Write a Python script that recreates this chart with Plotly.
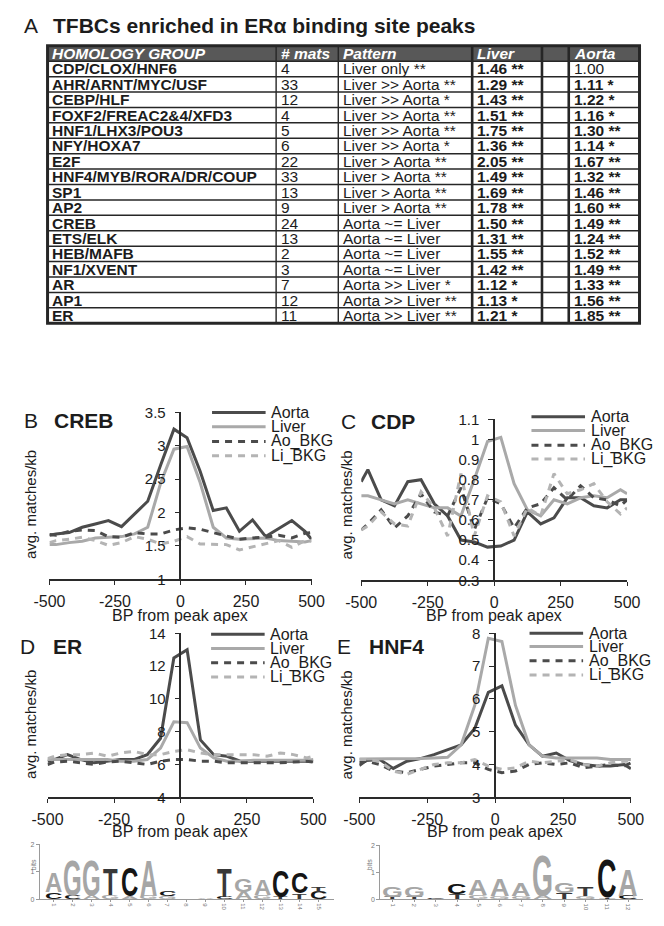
import json
import plotly.graph_objects as go

W, H = 664, 926
FONT = "Liberation Sans, Arial, Helvetica, sans-serif"
INK = "#1c1c1c"
DARK = "#4b4b4b"
LIGHT = "#a9a9a9"
LIGHT_BKG = "#b4b4b4"


def px(x):
    return x / W


def py(y):
    return 1 - y / H


# ---------------- Panel A: table data ----------------
groups = ["CDP/CLOX/HNF6", "AHR/ARNT/MYC/USF", "CEBP/HLF", "FOXF2/FREAC2&4/XFD3",
          "HNF1/LHX3/POU3", "NFY/HOXA7", "E2F", "HNF4/MYB/RORA/DR/COUP", "SP1", "AP2",
          "CREB", "ETS/ELK", "HEB/MAFB", "NF1/XVENT", "AR", "AP1", "ER"]
n_mats = [4, 33, 12, 4, 5, 6, 22, 33, 13, 9, 24, 13, 2, 3, 7, 12, 11]
patterns = ["Liver only **", "Liver >> Aorta **", "Liver >> Aorta *", "Liver >> Aorta **",
            "Liver >> Aorta **", "Liver >> Aorta *", "Liver > Aorta **", "Liver > Aorta **",
            "Liver > Aorta **", "Liver > Aorta **", "Aorta ~= Liver", "Aorta ~= Liver",
            "Aorta ~= Liver", "Aorta ~= Liver", "Aorta >> Liver *", "Aorta >> Liver **",
            "Aorta >> Liver **"]
liver_scores = [1.46, 1.29, 1.43, 1.51, 1.75, 1.36, 2.05, 1.49, 1.69, 1.78, 1.50, 1.31,
                1.55, 1.42, 1.12, 1.13, 1.21]
liver_sig = ["**"] * 14 + ["*", "*", "*"]
aorta_scores = [1.00, 1.11, 1.22, 1.16, 1.30, 1.14, 1.67, 1.32, 1.46, 1.60, 1.49, 1.24,
                1.52, 1.49, 1.33, 1.56, 1.85]
aorta_sig = ["", "*", "*", "*", "**", "*", "**", "**", "**", "**", "**", "**", "**", "**",
             "**", "**", "**"]
header = ["HOMOLOGY GROUP", "# mats", "Pattern", "Liver", "", "Aorta"]

# ---------------- Panels B-E: profile data ----------------
bp = [-500, -475, -425, -375, -325, -275, -225, -175, -125, -75, -25,
      25, 75, 125, 175, 225, 275, 325, 375, 425, 475, 500]
series_names = ["Aorta", "Liver", "Ao_BKG", "Li_BKG"]

creb_aorta = [1.66, 1.68, 1.70, 1.78, 1.83, 1.88, 1.79, 1.98, 2.17, 2.72, 3.25,
              3.12, 2.62, 2.03, 2.07, 1.72, 1.89, 1.64, 1.76, 1.88, 1.72, 1.60]
creb_liver = [1.52, 1.52, 1.55, 1.57, 1.62, 1.63, 1.64, 1.68, 1.78, 2.45, 2.95,
              2.99, 2.45, 1.78, 1.62, 1.60, 1.61, 1.62, 1.58, 1.57, 1.56, 1.58]
creb_ao_bkg = [1.67, 1.66, 1.72, 1.74, 1.73, 1.64, 1.63, 1.70, 1.68, 1.68, 1.74,
               1.77, 1.75, 1.70, 1.66, 1.60, 1.62, 1.63, 1.66, 1.62, 1.69, 1.70]
creb_li_bkg = [1.55, 1.58, 1.60, 1.63, 1.58, 1.51, 1.55, 1.64, 1.60, 1.53, 1.57,
               1.64, 1.53, 1.52, 1.52, 1.44, 1.49, 1.53, 1.58, 1.48, 1.58, 1.57]

cdp_aorta = [0.79, 0.85, 0.70, 0.67, 0.79, 0.80, 0.68, 0.62, 0.50, 0.49, 0.465,
             0.47, 0.50, 0.64, 0.58, 0.61, 0.71, 0.71, 0.67, 0.66, 0.70, 0.70]
cdp_liver = [0.72, 0.72, 0.70, 0.68, 0.70, 0.68, 0.66, 0.66, 0.62, 0.80, 0.99,
             1.01, 0.78, 0.65, 0.62, 0.70, 0.68, 0.71, 0.72, 0.71, 0.75, 0.73]
cdp_ao_bkg = [0.55, 0.58, 0.65, 0.56, 0.62, 0.73, 0.64, 0.62, 0.76, 0.55, 0.71,
              0.68, 0.56, 0.66, 0.68, 0.76, 0.70, 0.77, 0.71, 0.70, 0.67, 0.70]
cdp_li_bkg = [0.55, 0.57, 0.64, 0.58, 0.57, 0.74, 0.66, 0.52, 0.83, 0.52, 0.72,
              0.69, 0.52, 0.66, 0.62, 0.83, 0.73, 0.75, 0.78, 0.69, 0.63, 0.66]

er_aorta = [6.2, 6.3, 6.6, 6.3, 6.1, 6.2, 6.3, 6.3, 6.6, 7.6, 12.5,
            13.0, 7.5, 6.6, 6.5, 6.2, 6.2, 6.2, 6.2, 6.2, 6.2, 6.2]
er_liver = [6.3, 6.3, 6.3, 6.3, 6.3, 6.3, 6.2, 6.2, 6.3, 7.0, 8.6,
            8.55, 7.0, 6.4, 6.2, 6.2, 6.25, 6.25, 6.25, 6.25, 6.25, 6.3]
er_ao_bkg = [6.0, 6.15, 6.2, 6.1, 6.0, 6.15, 6.2, 6.1, 6.0, 6.2, 6.3,
             6.3, 6.2, 6.2, 6.1, 6.1, 6.1, 6.1, 6.1, 6.15, 6.2, 6.15]
er_li_bkg = [6.35, 6.5, 6.6, 6.6, 6.7, 6.5, 6.7, 6.8, 6.6, 6.6, 6.8,
             6.9, 6.7, 6.6, 6.6, 6.6, 6.6, 6.5, 6.7, 6.6, 6.4, 6.5]

hnf4_aorta = [3.97, 4.12, 4.15, 3.88, 4.10, 4.18, 4.30, 4.45, 4.60, 5.10, 6.20,
              6.40, 5.20, 4.60, 4.25, 4.35, 4.12, 4.00, 3.95, 3.95, 4.00, 3.87]
hnf4_liver = [4.17, 4.17, 4.18, 4.18, 4.18, 4.18, 4.20, 4.22, 4.60, 5.80, 7.85,
              7.75, 5.80, 4.60, 4.25, 4.20, 4.20, 4.20, 4.20, 4.15, 4.15, 4.15]
hnf4_ao_bkg = [4.05, 4.10, 4.00, 3.80, 3.75, 3.85, 3.95, 4.00, 4.05, 4.05, 3.85,
               3.75, 3.80, 4.00, 4.05, 4.00, 4.05, 3.90, 3.95, 4.00, 3.95, 4.05]
hnf4_li_bkg = [4.15, 4.15, 4.10, 3.80, 3.70, 3.85, 4.00, 4.05, 4.05, 4.15, 3.95,
               3.85, 3.90, 4.10, 4.05, 4.10, 4.15, 4.00, 3.95, 4.05, 4.10, 4.10]

x_ticks = [-500, -250, 0, 250, 500]
creb_yticks = [1, 1.5, 2, 2.5, 3, 3.5]
cdp_yticks = [0.3, 0.4, 0.5, 0.6, 0.7, 0.8, 0.9, 1.0, 1.1]
er_yticks = [4, 6, 8, 10, 12, 14]
hnf4_yticks = [3, 4, 5, 6, 7, 8]

# ---------------- sequence logos (letter, bits) stacked bottom->top ----------------
er_logo = [
    [("C", 0.25), ("A", 0.70)],
    [("C", 0.13), ("G", 1.29)],
    [("A", 0.12), ("G", 1.30)],
    [("G", 0.15), ("T", 0.95)],
    [("A", 0.10), ("C", 1.04)],
    [("G", 0.12), ("A", 1.30)],
    [("G", 0.11), ("C", 0.20)],
    [],
    [("A", 0.06)],
    [("C", 0.09), ("T", 1.05)],
    [("A", 0.26), ("G", 0.46)],
    [("G", 0.14), ("A", 0.58)],
    [("T", 0.07), ("C", 0.96)],
    [("T", 0.21), ("C", 0.76)],
    [("C", 0.27), ("T", 0.20)],
]
hnf4_logo = [
    [("T", 0.09), ("G", 0.40)],
    [("T", 0.09), ("G", 0.36)],
    [("C", 0.02)],
    [("T", 0.19), ("C", 0.36)],
    [("G", 0.14), ("A", 0.56)],
    [("G", 0.10), ("A", 0.60)],
    [("G", 0.10), ("A", 0.50)],
    [("A", 0.12), ("G", 1.48)],
    [("T", 0.24), ("G", 0.38)],
    [("G", 0.10), ("T", 0.35)],
    [("T", 0.06), ("C", 1.39)],
    [("C", 0.12), ("A", 0.98)],
]
LOGO_COLORS = {"A": "#a6a6a6", "G": "#a6a6a6", "C": "#151515", "T": "#383838"}

annotations = []
shapes = []
stretch = []


def esc(s):
    return s.replace("&", "&amp;").replace(">", "&gt;")


# ---------------- Panel A drawing ----------------
annotations.append(dict(x=px(6), y=py(17), xref="paper", yref="paper", text="A",
                        showarrow=False, xanchor="left", yanchor="middle",
                        font=dict(family=FONT, size=21, color=INK)))
annotations.append(dict(x=px(37), y=py(17), xref="paper", yref="paper",
                        text="<b>TFBCs enriched in ERα binding site peaks</b>",
                        showarrow=False, xanchor="left", yanchor="middle",
                        font=dict(family=FONT, size=21, color=INK)))

col_x = [33, 272, 337, 477, 550, 578, 652]
tbl_top = 37.5
row_h = 15.7
n_rows = len(groups) + 1
tbl_bot = tbl_top + n_rows * row_h
TBL_FS = 15.5

shapes.append(dict(type="rect", xref="paper", yref="paper", x0=px(col_x[0]), x1=px(col_x[-1]),
                   y0=py(tbl_top), y1=py(tbl_top + row_h), fillcolor="#585858",
                   line=dict(width=0), layer="below"))
for k in range(1, n_rows):
    yy = tbl_top + k * row_h
    shapes.append(dict(type="line", xref="paper", yref="paper", x0=px(col_x[0]), x1=px(col_x[-1]),
                       y0=py(yy), y1=py(yy), line=dict(color="#262626", width=1.5)))
for j, cx in enumerate(col_x[1:-1]):
    wdt = 1.4 if j < 2 else 2.6
    shapes.append(dict(type="line", xref="paper", yref="paper", x0=px(cx), x1=px(cx),
                       y0=py(tbl_top), y1=py(tbl_bot), line=dict(color="#262626", width=wdt)))
shapes.append(dict(type="rect", xref="paper", yref="paper", x0=px(col_x[0]), x1=px(col_x[-1]),
                   y0=py(tbl_top), y1=py(tbl_bot), line=dict(color="#262626", width=3)))

for c, htxt in enumerate(header):
    if htxt:
        annotations.append(dict(x=px(col_x[c] + 3), y=py(tbl_top + row_h / 2), xref="paper",
                                yref="paper", text="<b><i>" + esc(htxt) + "</i></b>",
                                showarrow=False, xanchor="left", yanchor="middle",
                                font=dict(family=FONT, size=TBL_FS, color="#ffffff")))

for r in range(len(groups)):
    yc = py(tbl_top + (r + 1.5) * row_h)
    liver_txt = f"<b>{liver_scores[r]:.2f} {liver_sig[r]}</b>"
    a_txt = f"{aorta_scores[r]:.2f} {aorta_sig[r]}".strip()
    aorta_txt = f"<b>{a_txt}</b>" if aorta_sig[r] else a_txt
    cells = ["<b>" + esc(groups[r]) + "</b>", str(n_mats[r]), esc(patterns[r]), liver_txt, "", aorta_txt]
    for c, txt in enumerate(cells):
        if not txt:
            continue
        annotations.append(dict(x=px(col_x[c] + 3), y=yc, xref="paper", yref="paper", text=txt,
                                showarrow=False, xanchor="left", yanchor="middle",
                                font=dict(family=FONT, size=TBL_FS, color=INK)))

# ---------------- Panels B-E ----------------
styles = [dict(color=DARK, dash="solid"), dict(color=LIGHT, dash="solid"),
          dict(color=DARK, dash="7px,6px"), dict(color=LIGHT_BKG, dash="7px,6px")]

panels = [
    dict(letter="B", name="CREB", data=[creb_aorta, creb_liver, creb_ao_bkg, creb_li_bkg],
         xpx=(35, 309), ypx=(581, 411), yrange=(1, 3.5), yticks=creb_yticks,
         ytext=["1", "1.5", "2", "2.5", "3", "3.5"], yaxis_px=172,
         lab=(6, 38, 419.5), leg=(205, 261, 265, [411, 425.5, 440.5, 455]),
         ytitle=(15, 505), xtitle_y=618),
    dict(letter="C", name="CDP", data=[cdp_aorta, cdp_liver, cdp_ao_bkg, cdp_li_bkg],
         xpx=(361, 639), ypx=(582, 418), yrange=(0.3, 1.1), yticks=cdp_yticks,
         ytext=["0.3", "0.4", "0.5", "0.6", "0.7", "0.8", "0.9", "1", "1.1"], yaxis_px=500,
         lab=(338, 369, 420), leg=(539, 595, 599, [415.5, 429.5, 444.5, 458.5]),
         ytitle=(346, 505), xtitle_y=618),
    dict(letter="D", name="ER", data=[er_aorta, er_liver, er_ao_bkg, er_li_bkg],
         xpx=(33, 311), ypx=(803, 636), yrange=(4, 14), yticks=er_yticks,
         ytext=[str(v) for v in er_yticks], yaxis_px=172,
         lab=(2, 37, 649), leg=(204, 260, 264, [637, 651.5, 666, 680.5]),
         ytitle=(15, 729), xtitle_y=838),
    dict(letter="E", name="HNF4", data=[hnf4_aorta, hnf4_liver, hnf4_ao_bkg, hnf4_li_bkg],
         xpx=(359, 643), ypx=(803, 636), yrange=(3, 8), yticks=hnf4_yticks,
         ytext=[str(v) for v in hnf4_yticks], yaxis_px=501,
         lab=(334, 367, 649.5), leg=(537, 593, 597, [636, 649.5, 664, 678.5]),
         ytitle=(346, 729), xtitle_y=838),
]

fig = go.Figure()
layout_axes = {}
for i, p in enumerate(panels):
    sfx = "" if i == 0 else str(i + 1)
    xa, ya = "x" + sfx, "y" + sfx
    for s, (vals, st) in enumerate(zip(p["data"], styles)):
        fig.add_trace(go.Scatter(x=bp, y=vals, mode="lines", name=series_names[s],
                                 xaxis=xa, yaxis=ya, showlegend=False, hoverinfo="skip",
                                 line=dict(color=st["color"], width=3, dash=st["dash"])))
    layout_axes["xaxis" + sfx] = dict(
        domain=[px(p["xpx"][0]), px(p["xpx"][1])], range=[-500, 500], anchor=ya,
        showgrid=False, zeroline=False, showline=True, linecolor="#2a2a2a", linewidth=1.6,
        ticks="outside", ticklen=4, tickwidth=1.4, tickcolor="#2a2a2a", tickvals=x_ticks,
        ticktext=[str(v) for v in x_ticks], ticklabelstandoff=3,
        tickfont=dict(family=FONT, size=16, color=INK))
    layout_axes["yaxis" + sfx] = dict(
        domain=[py(p["ypx"][0]), py(p["ypx"][1])], range=list(p["yrange"]), anchor="free",
        position=px(p["yaxis_px"]), showgrid=False, zeroline=False, showline=True,
        linecolor="#2a2a2a", linewidth=1.6, ticks="outside", ticklen=5, tickwidth=1.4,
        tickcolor="#2a2a2a", tickvals=p["yticks"], ticktext=p["ytext"], ticklabelstandoff=6,
        tickfont=dict(family=FONT, size=15, color=INK))
    lx, nx, ly = p["lab"]
    annotations.append(dict(x=px(lx), y=py(ly), xref="paper", yref="paper", text=p["letter"],
                            showarrow=False, xanchor="left", yanchor="middle",
                            font=dict(family=FONT, size=21, color=INK)))
    annotations.append(dict(x=px(nx), y=py(ly), xref="paper", yref="paper",
                            text="<b>" + p["name"] + "</b>", showarrow=False, xanchor="left",
                            yanchor="middle", font=dict(family=FONT, size=21, color=INK)))
    annotations.append(dict(x=px(p["ytitle"][0]), y=py(p["ytitle"][1]), xref="paper",
                            yref="paper", text="avg. matches/kb", textangle=-90,
                            showarrow=False, xanchor="center", yanchor="middle",
                            font=dict(family=FONT, size=15, color=INK)))
    annotations.append(dict(x=px(p["yaxis_px"]), y=py(p["xtitle_y"]), xref="paper", yref="paper",
                            text="BP from peak apex", showarrow=False, xanchor="center",
                            yanchor="middle", font=dict(family=FONT, size=16, color=INK)))
    x0, x1, tx, ys = p["leg"]
    for s, st in enumerate(styles):
        shapes.append(dict(type="line", xref="paper", yref="paper", x0=px(x0), x1=px(x1),
                           y0=py(ys[s]), y1=py(ys[s]),
                           line=dict(color=st["color"], width=3, dash=st["dash"])))
        annotations.append(dict(x=px(tx), y=py(ys[s]), xref="paper", yref="paper",
                                text=series_names[s], showarrow=False, xanchor="left",
                                yanchor="middle", font=dict(family=FONT, size=16, color=INK)))

# ---------------- logos ----------------
logos = [
    dict(stacks=er_logo, xa="x5", ya="y5", dom_x=(25, 332), first=39.5, step=19.8,
         ypx=(906.7, 851), fs=24, bits_x=12),
    dict(stacks=hnf4_logo, xa="x6", ya="y6", dom_x=(381, 656), first=394, step=22.4,
         ypx=(907, 851.7), fs=27, bits_x=369),
]
for L in logos:
    sfx = L["xa"][1:]
    n = len(L["stacks"])
    x_lo = 1 - (L["first"] - L["dom_x"][0]) / L["step"]
    x_hi = x_lo + (L["dom_x"][1] - L["dom_x"][0]) / L["step"]
    ppb = (L["ypx"][0] - L["ypx"][1]) / 2.0
    layout_axes["xaxis" + sfx] = dict(
        domain=[px(L["dom_x"][0]), px(L["dom_x"][1])], range=[x_lo, x_hi], anchor=L["ya"],
        showgrid=False, zeroline=False, showline=True, linecolor="#9a9a9a", linewidth=1,
        ticks="outside", ticklen=2, tickcolor="#9a9a9a", tickvals=list(range(1, n + 1)),
        ticktext=[str(v) for v in range(1, n + 1)], tickangle=90,
        tickfont=dict(family=FONT, size=6, color="#777777"))
    layout_axes["yaxis" + sfx] = dict(
        domain=[py(L["ypx"][0]), py(L["ypx"][1])], range=[0, 2], anchor=L["xa"],
        showgrid=False, zeroline=False, showline=True, linecolor="#9a9a9a", linewidth=1,
        ticks="outside", ticklen=3, tickcolor="#9a9a9a", tickvals=[0, 1, 2],
        tickfont=dict(family=FONT, size=7, color="#777777"))
    annotations.append(dict(x=px(L["bits_x"]), y=py(879), xref="paper", yref="paper",
                            text="bits", textangle=-90, showarrow=False,
                            font=dict(family=FONT, size=7, color="#777777")))
    fs = L["fs"]
    for i, stack in enumerate(L["stacks"]):
        base = 0.0
        for letter, bits in stack:
            idx = len(annotations)
            annotations.append(dict(x=i + 1, y=base, xref=L["xa"], yref=L["ya"],
                                    text="<b>" + letter + "</b>", showarrow=False,
                                    xanchor="center", yanchor="bottom", yshift=-0.212 * fs,
                                    borderpad=0, borderwidth=0,
                                    font=dict(family=FONT, size=fs, color=LOGO_COLORS[letter])))
            stretch.append([idx, round(bits * ppb / (0.72 * fs), 4)])
            base += bits

fig.update_layout(
    width=W, height=H, margin=dict(l=0, r=0, t=0, b=0),
    paper_bgcolor="white", plot_bgcolor="rgba(0,0,0,0)",
    showlegend=False, annotations=annotations, shapes=shapes,
    font=dict(family=FONT, color=INK), hovermode=False,
    **layout_axes,
)

post = """
document.documentElement.style.margin = '0';
document.documentElement.style.overflow = 'hidden';
document.body.style.margin = '0';
document.body.style.padding = '0';
document.body.style.overflow = 'hidden';
var gd = document.getElementById('{plot_id}');
var LOGO = %s;
function stretchLogo(){
  for (var i = 0; i < LOGO.length; i++) {
    var g = gd.querySelector('g.annotation[data-index="' + LOGO[i][0] + '"]');
    if (!g) continue;
    var t = g.querySelector('text.annotation-text');
    if (!t) continue;
    var inner = t.parentNode;
    var yb = parseFloat(t.getAttribute('y')) || 0;
    var base = inner.getAttribute('data-base-tf');
    if (base === null) { base = inner.getAttribute('transform') || ''; inner.setAttribute('data-base-tf', base); }
    inner.setAttribute('transform', base + ' translate(0,' + yb + ') scale(1,' + LOGO[i][1] + ') translate(0,' + (-yb) + ')');
  }
}
stretchLogo();
gd.on('plotly_afterplot', stretchLogo);
""" % json.dumps(stretch)

fig.write_html("out.html", post_script=post, config={"displayModeBar": False})
